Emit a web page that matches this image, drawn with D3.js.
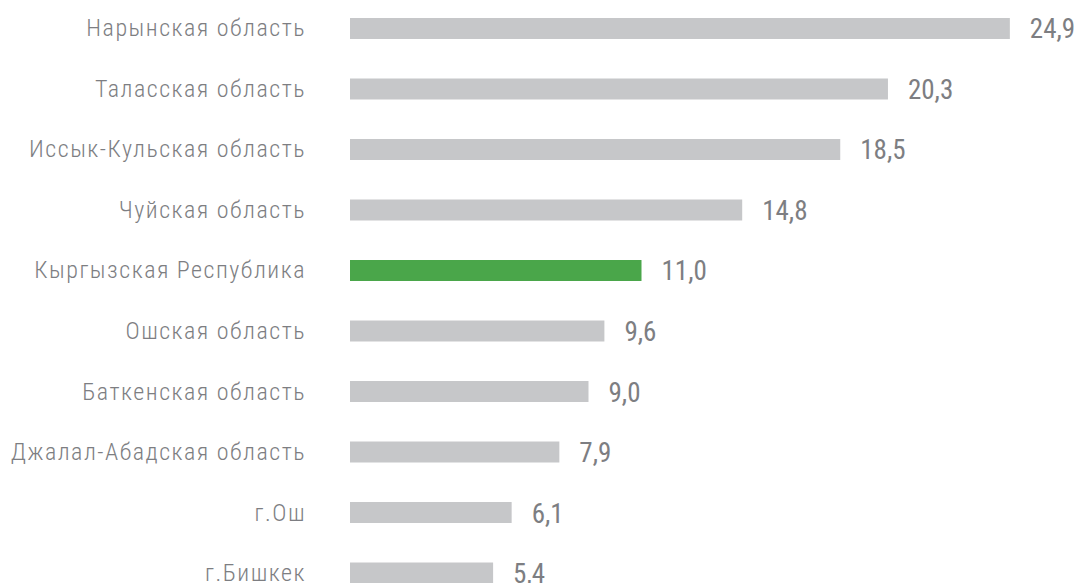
<!DOCTYPE html>
<html>
<head>
<meta charset="utf-8">
<script src="https://cdn.jsdelivr.net/npm/d3@7"></script>
<style>
  html, body { margin: 0; padding: 0; background: #fff; }
  svg { display: block; }
  text { font-family: "Roboto Condensed", "Liberation Sans Narrow", "DejaVu Sans Condensed", Roboto, sans-serif; }
</style>
</head>
<body>
<svg id="chart" width="1077" height="583"></svg>
<script>
const categories = [
  "Нарынская область",
  "Таласская область",
  "Иссык-Кульская область",
  "Чуйская область",
  "Кыргызская Республика",
  "Ошская область",
  "Баткенская область",
  "Джалал-Абадская область",
  "г.Ош",
  "г.Бишкек"
];
const values = [24.9, 20.3, 18.5, 14.8, 11.0, 9.6, 9.0, 7.9, 6.1, 5.4];
const valueLabels = ["24,9", "20,3", "18,5", "14,8", "11,0", "9,6", "9,0", "7,9", "6,1", "5,4"];
const highlight = "Кыргызская Республика";

const svg = d3.select("#chart");
const x = d3.scaleLinear().domain([0, 25]).range([350, 1012.5]);
const y = d3.scaleBand().domain(categories).range([18, 583.5]).paddingInner(0.653).paddingOuter(0);

const rows = svg.selectAll("g.row").data(categories).join("g").attr("class", "row");

rows.append("rect")
  .attr("x", x(0))
  .attr("y", d => y(d))
  .attr("width", (d, i) => x(values[i]) - x(0))
  .attr("height", y.bandwidth())
  .attr("fill", d => d === highlight ? "#4aa64a" : "#c6c7c9");

rows.append("text")
  .attr("x", 306)
  .attr("y", d => y(d) + y.bandwidth() / 2 + 8)
  .attr("text-anchor", "end")
  .attr("fill", "#7d7e82")
  .style("font-size", "24px")
  .style("font-weight", 300)
  .style("letter-spacing", "1.5px")
  .text(d => d);

rows.append("text")
  .attr("x", (d, i) => x(values[i]) + 20)
  .attr("y", d => y(d) + y.bandwidth() / 2 + 10)
  .attr("fill", "#7d7e82")
  .style("font-size", "27px")
  .style("font-weight", 400)
  .text((d, i) => valueLabels[i]);
</script>
</body>
</html>
